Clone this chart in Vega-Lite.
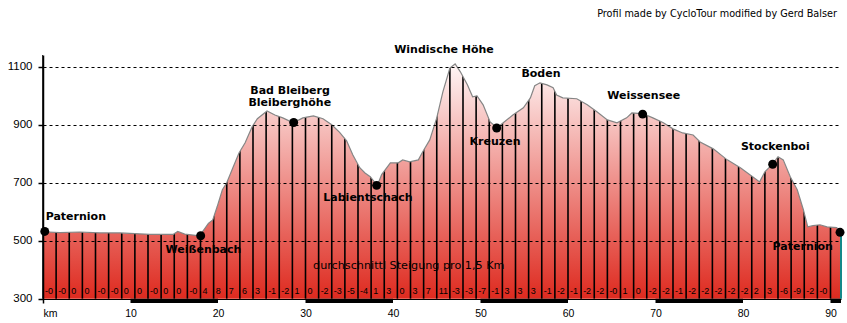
{
  "$schema": "https://vega.github.io/schema/vega-lite/v6.json",
  "width": 798,
  "height": 248,
  "autosize": {"type": "none"},
  "padding": {"left": 43, "top": 55, "right": 6, "bottom": 20},
  "background": "white",
  "config": {"view": {"stroke": null}},
  "datasets": {
    "profile": [
      {"km": 0, "elev": 531}, {"km": 1.9, "elev": 528}, {"km": 4.2, "elev": 530}, {"km": 6.5, "elev": 527},
      {"km": 8.8, "elev": 527}, {"km": 12.2, "elev": 522}, {"km": 14.9, "elev": 522}, {"km": 15.4, "elev": 532},
      {"km": 16.2, "elev": 523}, {"km": 17.9, "elev": 517}, {"km": 18.9, "elev": 560}, {"km": 19.4, "elev": 572},
      {"km": 19.9, "elev": 617}, {"km": 20.5, "elev": 676}, {"km": 21.0, "elev": 700}, {"km": 21.7, "elev": 752},
      {"km": 22.4, "elev": 803}, {"km": 23.1, "elev": 838}, {"km": 23.9, "elev": 893}, {"km": 24.5, "elev": 921},
      {"km": 25.6, "elev": 948}, {"km": 26.5, "elev": 934}, {"km": 27.4, "elev": 924}, {"km": 28.6, "elev": 907},
      {"km": 29.7, "elev": 924}, {"km": 30.9, "elev": 931}, {"km": 32.0, "elev": 921}, {"km": 33.0, "elev": 900},
      {"km": 33.9, "elev": 874}, {"km": 34.7, "elev": 845}, {"km": 35.4, "elev": 797}, {"km": 36.2, "elev": 752},
      {"km": 36.8, "elev": 734}, {"km": 37.4, "elev": 721}, {"km": 38.2, "elev": 690}, {"km": 38.7, "elev": 728},
      {"km": 39.7, "elev": 769}, {"km": 40.6, "elev": 769}, {"km": 41.1, "elev": 779}, {"km": 41.9, "elev": 772},
      {"km": 42.9, "elev": 779}, {"km": 43.4, "elev": 807}, {"km": 44.2, "elev": 848}, {"km": 45.0, "elev": 924},
      {"km": 45.7, "elev": 1014}, {"km": 46.5, "elev": 1096}, {"km": 47.1, "elev": 1110}, {"km": 47.7, "elev": 1083},
      {"km": 48.5, "elev": 1038}, {"km": 49.1, "elev": 997}, {"km": 49.6, "elev": 1000}, {"km": 50.3, "elev": 969},
      {"km": 51.1, "elev": 910}, {"km": 51.9, "elev": 890}, {"km": 52.6, "elev": 907}, {"km": 53.7, "elev": 934},
      {"km": 54.9, "elev": 959}, {"km": 55.7, "elev": 993}, {"km": 56.2, "elev": 1035}, {"km": 56.8, "elev": 1045},
      {"km": 57.6, "elev": 1038}, {"km": 58.3, "elev": 1028}, {"km": 58.7, "elev": 1003}, {"km": 59.4, "elev": 993},
      {"km": 61.0, "elev": 990}, {"km": 62.2, "elev": 969}, {"km": 63.3, "elev": 945}, {"km": 64.5, "elev": 917},
      {"km": 65.6, "elev": 907}, {"km": 66.7, "elev": 924}, {"km": 67.3, "elev": 941}, {"km": 68.6, "elev": 938},
      {"km": 69.7, "elev": 924}, {"km": 70.9, "elev": 907}, {"km": 72.0, "elev": 886}, {"km": 73.1, "elev": 872},
      {"km": 74.3, "elev": 865}, {"km": 75.1, "elev": 841}, {"km": 76.6, "elev": 817}, {"km": 78.2, "elev": 779},
      {"km": 79.7, "elev": 752}, {"km": 81.1, "elev": 721}, {"km": 81.9, "elev": 703}, {"km": 82.5, "elev": 738},
      {"km": 83.4, "elev": 765}, {"km": 84.0, "elev": 790}, {"km": 84.6, "elev": 779}, {"km": 85.4, "elev": 721},
      {"km": 86.2, "elev": 676}, {"km": 86.9, "elev": 607}, {"km": 87.4, "elev": 548}, {"km": 88.0, "elev": 552},
      {"km": 88.8, "elev": 555}, {"km": 89.6, "elev": 548}, {"km": 90.7, "elev": 545}, {"km": 91.2, "elev": 530}
    ],
    "segments": [
      {"km": 0, "grade": "-0"}, {"km": 1.5, "grade": "-0"}, {"km": 3, "grade": "0"}, {"km": 4.5, "grade": "0"},
      {"km": 6, "grade": "-0"}, {"km": 7.5, "grade": "-0"}, {"km": 9, "grade": "0"}, {"km": 10.5, "grade": "0"},
      {"km": 12, "grade": "-0"}, {"km": 13.5, "grade": "0"}, {"km": 15, "grade": "0"}, {"km": 16.5, "grade": "-0"},
      {"km": 18, "grade": "4"}, {"km": 19.5, "grade": "8"}, {"km": 21, "grade": "7"}, {"km": 22.5, "grade": "6"},
      {"km": 24, "grade": "3"}, {"km": 25.5, "grade": "-1"}, {"km": 27, "grade": "-2"}, {"km": 28.5, "grade": "1"},
      {"km": 30, "grade": "0"}, {"km": 31.5, "grade": "-2"}, {"km": 33, "grade": "-3"}, {"km": 34.5, "grade": "-5"},
      {"km": 36, "grade": "-4"}, {"km": 37.5, "grade": "1"}, {"km": 39, "grade": "3"}, {"km": 40.5, "grade": "0"},
      {"km": 42, "grade": "3"}, {"km": 43.5, "grade": "7"}, {"km": 45, "grade": "11"}, {"km": 46.5, "grade": "-3"},
      {"km": 48, "grade": "-3"}, {"km": 49.5, "grade": "-7"}, {"km": 51, "grade": "-1"}, {"km": 52.5, "grade": "3"},
      {"km": 54, "grade": "3"}, {"km": 55.5, "grade": "3"}, {"km": 57, "grade": "-1"}, {"km": 58.5, "grade": "-2"},
      {"km": 60, "grade": "-1"}, {"km": 61.5, "grade": "-2"}, {"km": 63, "grade": "-2"}, {"km": 64.5, "grade": "-0"},
      {"km": 66, "grade": "1"}, {"km": 67.5, "grade": "0"}, {"km": 69, "grade": "-2"}, {"km": 70.5, "grade": "-2"},
      {"km": 72, "grade": "-1"}, {"km": 73.5, "grade": "-2"}, {"km": 75, "grade": "-2"}, {"km": 76.5, "grade": "-2"},
      {"km": 78, "grade": "-2"}, {"km": 79.5, "grade": "-2"}, {"km": 81, "grade": "2"}, {"km": 82.5, "grade": "3"},
      {"km": 84, "grade": "-6"}, {"km": 85.5, "grade": "-9"}, {"km": 87, "grade": "-2"}, {"km": 88.5, "grade": "-0"},
      {"km": 90, "grade": ""}
    ],
    "bar": [
      {"from": 10, "to": 20}, {"from": 30, "to": 40}, {"from": 50, "to": 60}, {"from": 70, "to": 80}, {"from": 90, "to": 91.2}
    ],
    "places": [
      {"name": "Paternion", "km": 0.2, "elev": 532},
      {"name": "Weißenbach", "km": 18.02, "elev": 517},
      {"name": "Bleiberghöhe", "km": 28.65, "elev": 908},
      {"name": "Labientschach", "km": 38.13, "elev": 691},
      {"name": "Kreuzen", "km": 51.85, "elev": 889},
      {"name": "Weissensee", "km": 68.53, "elev": 937},
      {"name": "Stockenboi", "km": 83.39, "elev": 764},
      {"name": "Paternion", "km": 91.09, "elev": 529}
    ],
    "labels": [
      {"text": "Paternion", "km": 3.75, "elev": 582},
      {"text": "Weißenbach", "km": 18.34, "elev": 469},
      {"text": "Bad Bleiberg", "km": 28.23, "elev": 1017},
      {"text": "Bleiberghöhe", "km": 28.2, "elev": 977},
      {"text": "Labientschach", "km": 37.14, "elev": 648},
      {"text": "Windische Höhe", "km": 45.83, "elev": 1158},
      {"text": "Kreuzen", "km": 51.66, "elev": 841},
      {"text": "Boden", "km": 56.91, "elev": 1077},
      {"text": "Weissensee", "km": 68.65, "elev": 1001},
      {"text": "Stockenboi", "km": 83.69, "elev": 825},
      {"text": "Paternion", "km": 86.83, "elev": 478}
    ]
  },
  "layer": [
    {
      "data": {"name": "profile"},
      "mark": {
        "type": "area",
        "fill": {
          "gradient": "linear",
          "x1": 0, "y1": 0, "x2": 0, "y2": 1,
          "stops": [
            {"offset": 0, "color": "#fff6f6"},
            {"offset": 1, "color": "#de2a1f"}
          ]
        }
      },
      "encoding": {
        "x": {
          "field": "km", "type": "quantitative",
          "scale": {"domain": [0, 91.2], "nice": false, "zero": false},
          "axis": {
            "values": [0, 10, 20, 30, 40, 50, 60, 70, 80, 90],
            "labelExpr": "datum.value == 0 ? 'km' : datum.label",
            "domain": false, "ticks": false, "grid": false, "title": null,
            "labelFont": "Liberation Sans", "labelFontSize": 10.5, "labelColor": "black",
            "labelPadding": 5
          }
        },
        "y": {
          "field": "elev", "type": "quantitative",
          "scale": {"domain": [285, 1141], "nice": false, "zero": false},
          "axis": {
            "values": [300, 500, 700, 900, 1100],
            "format": "d",
            "title": null,
            "grid": true, "gridColor": "black", "gridWidth": 1, "gridOpacity": 1,
            "gridDash": {"condition": {"test": "datum.value == 300", "value": []}, "value": [3, 3]},
            "domainColor": "black", "domainWidth": 1.5,
            "tickColor": "black", "tickSize": 5, "tickWidth": 1.5,
            "labelFont": "Liberation Sans", "labelFontSize": 11.5, "labelColor": "black",
            "labelPadding": 6, "zindex": 1
          }
        },
        "y2": {"datum": 300}
      }
    },
    {
      "data": {"name": "segments"},
      "mark": {"type": "rule", "color": "black", "strokeWidth": 1.6},
      "encoding": {
        "x": {"field": "km", "type": "quantitative"},
        "y": {"datum": 300},
        "y2": {"datum": 1141}
      }
    },
    {
      "data": {"name": "profile"},
      "mark": {"type": "area", "fill": "white"},
      "encoding": {
        "x": {"field": "km", "type": "quantitative"},
        "y": {"field": "elev", "type": "quantitative"},
        "y2": {"datum": 1141}
      }
    },
    {
      "data": {"name": "profile"},
      "mark": {"type": "line", "color": "#858585", "strokeWidth": 1.2},
      "encoding": {
        "x": {"field": "km", "type": "quantitative"},
        "y": {"field": "elev", "type": "quantitative"}
      }
    },
    {
      "data": {"name": "bar"},
      "mark": {"type": "rect", "color": "black"},
      "encoding": {
        "x": {"field": "from", "type": "quantitative"},
        "x2": {"field": "to"},
        "y": {"datum": 285},
        "y2": {"datum": 300}
      }
    },
    {
      "data": {"name": "segments"},
      "mark": {"type": "text", "align": "left", "baseline": "alphabetic", "dx": 2, "dy": -5, "font": "Liberation Sans", "fontSize": 9, "color": "black"},
      "encoding": {
        "x": {"field": "km", "type": "quantitative"},
        "y": {"datum": 300},
        "text": {"field": "grade"}
      }
    },
    {
      "data": {"values": [{"note": "durchschnittl Steigung pro 1,5 Km", "km": 41.8, "elev": 414}]},
      "mark": {"type": "text", "align": "center", "baseline": "middle", "font": "DejaVu Sans", "fontSize": 11.2, "color": "black"},
      "encoding": {
        "x": {"field": "km", "type": "quantitative"},
        "y": {"field": "elev", "type": "quantitative"},
        "text": {"field": "note"}
      }
    },
    {
      "data": {"values": [{"note": "Profil made by CycloTour modified by Gerd Balser", "km": 91.2, "elev": 1281}]},
      "mark": {"type": "text", "align": "right", "baseline": "middle", "dx": -4, "font": "DejaVu Sans", "fontSize": 9.7, "color": "black"},
      "encoding": {
        "x": {"field": "km", "type": "quantitative"},
        "y": {"field": "elev", "type": "quantitative"},
        "text": {"field": "note"}
      }
    },
    {
      "data": {"values": [{"km": 91.2, "top": 528, "base": 300}]},
      "mark": {"type": "rule", "color": "#138a8a", "strokeWidth": 2},
      "encoding": {
        "x": {"field": "km", "type": "quantitative"},
        "y": {"field": "base", "type": "quantitative"},
        "y2": {"field": "top"}
      }
    },
    {
      "data": {"name": "places"},
      "mark": {"type": "circle", "color": "black", "size": 80, "opacity": 1},
      "encoding": {
        "x": {"field": "km", "type": "quantitative"},
        "y": {"field": "elev", "type": "quantitative"}
      }
    },
    {
      "data": {"name": "labels"},
      "mark": {"type": "text", "align": "center", "baseline": "middle", "font": "DejaVu Sans", "fontWeight": "bold", "fontSize": 11, "color": "black"},
      "encoding": {
        "x": {"field": "km", "type": "quantitative"},
        "y": {"field": "elev", "type": "quantitative"},
        "text": {"field": "text"}
      }
    }
  ]
}
